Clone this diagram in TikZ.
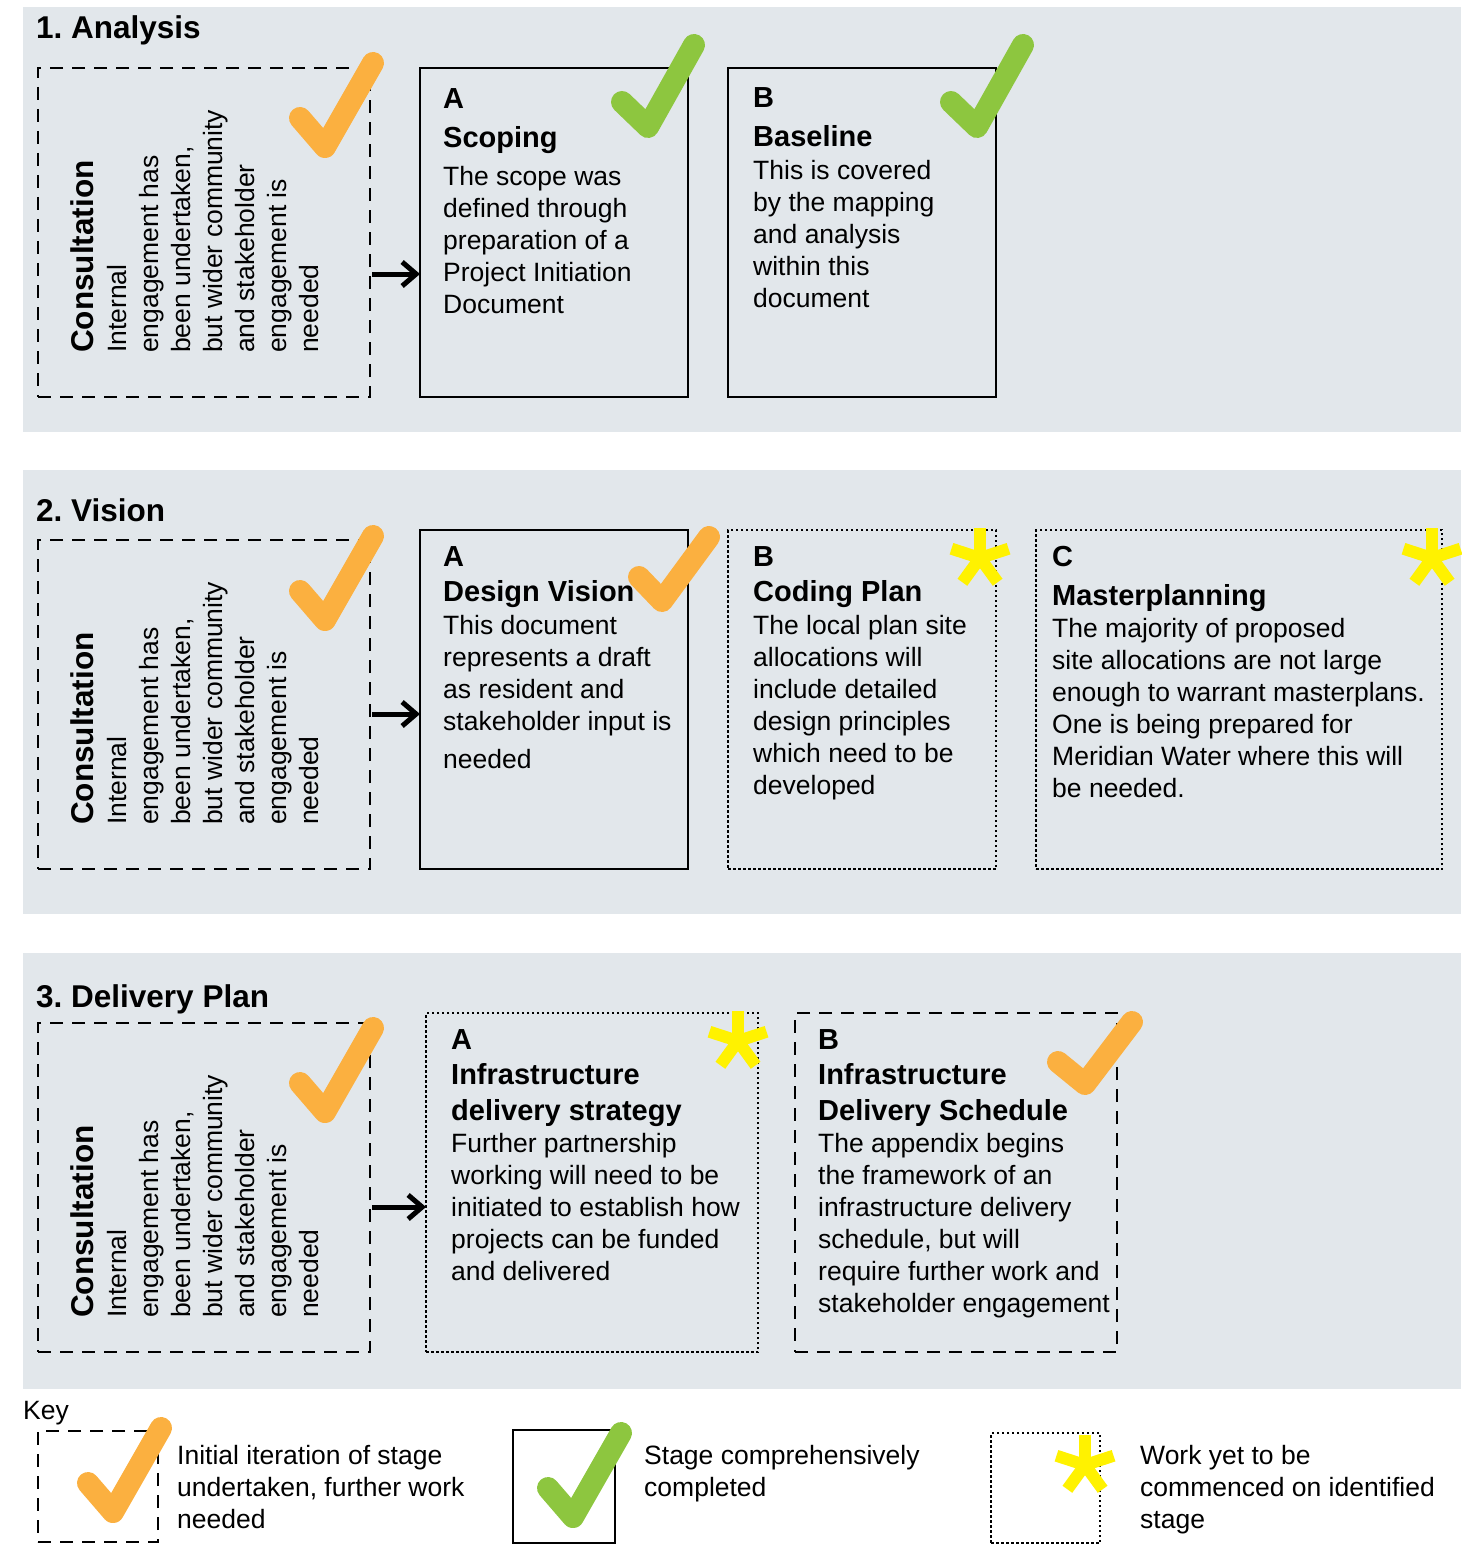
\documentclass[tikz,border=0pt]{standalone}
\usepackage{fontspec}
\setmainfont{Liberation Sans}
\usetikzlibrary{positioning,arrows.meta}
\definecolor{panelGrey}{HTML}{E2E7EB}
\definecolor{tickOrange}{HTML}{FBB040}
\definecolor{tickGreen}{HTML}{8DC63F}
\definecolor{starYellow}{HTML}{FFF200}
\newcommand{\bodyfont}{\fontsize{26.5}{32}\selectfont}
\newcommand{\headfont}{\fontsize{29}{34}\selectfont\bfseries}
\newcommand{\titlefont}{\fontsize{31.5}{37}\selectfont\bfseries}
\newcommand{\firstline}{\rule{0pt}{24pt}}
\newcommand{\starsign}[1]{\foreach \ang in {270,342,198,126,54}{\draw[starline] #1 -- ++(\ang:30);}}
\frenchspacing

\begin{document}
\begin{tikzpicture}[x=1pt, y=-1pt,
    stagebox/.style={rectangle, outer sep=0pt, inner sep=0pt, line width=2.8pt, anchor=north west},
    solidbox/.style={stagebox, draw},
    dashbox/.style={stagebox, draw, dash pattern=on 13pt off 9pt},
    dotbox/.style={stagebox, draw, line width=2.5pt, dash pattern=on 2.5pt off 2.5pt},
    txt/.style={inner sep=0pt, anchor=north west, align=left, font=\bodyfont},
    vtxt/.style={txt, rotate=90},
    title/.style={inner sep=0pt, anchor=base west, font=\titlefont},
    tickline/.style={line width=22pt, line cap=round, line join=round},
    starline/.style={line width=12pt, starYellow},
    flowarrow/.style={-{Straight Barb[length=14pt,width=24pt]}, line width=5pt}]
  \fill[white] (0,0) rectangle (1461,1546);
  \useasboundingbox (0,0) rectangle (1461,1546);
  % panels
  \fill[panelGrey] (23,7) rectangle (1461,432);
  \fill[panelGrey] (23,470) rectangle (1461,914);
  \fill[panelGrey] (23,953) rectangle (1461,1389);

  % 1. Analysis
  \node[title] (t1) at (36,39) {1. Analysis};
  \node[dashbox, minimum width=332pt, minimum height=329pt] (cons1) at (38,68) {};
  \node[solidbox, minimum width=268pt, minimum height=329pt] (scope) at (420,68) {};
  \node[solidbox, minimum width=268pt, minimum height=329pt] (base) at (728,68) {};
  \node[vtxt] (cons1t) at (69,353) {\firstline{\titlefont Consultation}\\[1pt] Internal\\ engagement has\\ been undertaken,\\ but wider community\\ and stakeholder\\ engagement is\\ needed};
  \node[txt] (scopet) at (443,84) {\firstline{\headfont A}\\[7pt] {\headfont Scoping}\\[6pt] The scope was\\ defined through\\ preparation of a\\ Project Initiation\\ Document};
  \node[txt] (baset) at (753,83) {\firstline{\headfont B}\\[7pt] {\headfont Baseline}\\[1pt] This is covered\\ by the mapping\\ and analysis\\ within this\\ document};
  \coordinate (row1) at (0,274);
  \draw[flowarrow] ([xshift=2pt]cons1.east |- row1) -- (scope.west |- row1);

  % 2. Vision
  \node[title] (t2) at (36,521) {2. Vision};
  \node[dashbox, minimum width=332pt, minimum height=329pt] (cons2) at (38,540) {};
  \node[solidbox, minimum width=268pt, minimum height=339pt] (vision) at (420,530) {};
  \node[dotbox, minimum width=268pt, minimum height=339pt] (coding) at (728,530) {};
  \node[dotbox, minimum width=406pt, minimum height=339pt] (master) at (1036,530) {};
  \node[vtxt] (cons2t) at (69,825) {\firstline{\titlefont Consultation}\\[1pt] Internal\\ engagement has\\ been undertaken,\\ but wider community\\ and stakeholder\\ engagement is\\ needed};
  \node[txt] (visiont) at (443,542) {\firstline{\headfont A}\\[3pt] {\headfont Design Vision}\\[1pt] This document\\ represents a draft\\ as resident and\\ stakeholder input is\\[6pt] needed};
  \node[txt] (codingt) at (753,542) {\firstline{\headfont B}\\[3pt] {\headfont Coding Plan}\\[1pt] The local plan site\\ allocations will\\ include detailed\\ design principles\\ which need to be\\ developed};
  \node[txt] (mastert) at (1052,542) {\firstline{\headfont C}\\[7pt] {\headfont Masterplanning}\\ The majority of proposed\\ site allocations are not large\\ enough to warrant masterplans.\\ One is being prepared for\\ Meridian Water where this will\\ be needed.};
  \coordinate (row2) at (0,714);
  \draw[flowarrow] ([xshift=2pt]cons2.east |- row2) -- (vision.west |- row2);

  % 3. Delivery Plan
  \node[title] (t3) at (36,1007) {3. Delivery Plan};
  \node[dashbox, minimum width=332pt, minimum height=329pt] (cons3) at (38,1023) {};
  \node[dotbox, minimum width=332pt, minimum height=339pt] (infra) at (426,1013) {};
  \node[dashbox, minimum width=322pt, minimum height=339pt] (sched) at (795,1013) {};
  \node[vtxt] (cons3t) at (69,1318) {\firstline{\titlefont Consultation}\\[1pt] Internal\\ engagement has\\ been undertaken,\\ but wider community\\ and stakeholder\\ engagement is\\ needed};
  \node[txt] (infrat) at (451,1025) {\firstline{\headfont A}\\[3pt] {\headfont Infrastructure}\\[4pt] {\headfont delivery strategy}\\ Further partnership\\ working will need to be\\ initiated to establish how\\ projects can be funded\\ and delivered};
  \node[txt] (schedt) at (818,1025) {\firstline{\headfont B}\\[3pt] {\headfont Infrastructure}\\[4pt] {\headfont Delivery Schedule}\\ The appendix begins\\ the framework of an\\ infrastructure delivery\\ schedule, but will\\ require further work and\\ stakeholder engagement};
  \coordinate (row3) at (0,1207);
  \draw[flowarrow] ([xshift=2pt]cons3.east |- row3) -- (infra.west |- row3);

  % key
  \node[inner sep=0pt, anchor=base west, font=\bodyfont] (key) at (23,1419) {Key};
  \node[dashbox, minimum width=120pt, minimum height=111pt] (keyA) at (38,1431) {};
  \node[solidbox, minimum width=102pt, minimum height=113pt] (keyB) at (513,1430) {};
  \node[dotbox, minimum width=109pt, minimum height=110pt] (keyC) at (991,1433) {};
  \node[txt] (keyAt) at (177,1440) {\firstline Initial iteration of stage\\ undertaken, further work\\ needed};
  \node[txt] (keyBt) at (644,1440) {\firstline Stage comprehensively\\ completed};
  \node[txt] (keyCt) at (1140,1440) {\firstline Work yet to be\\ commenced on identified\\ stage};

  % marks
  \draw[tickline, tickOrange] (300,118) -- (325,147) -- (373,63);
  \draw[tickline, tickGreen] (622,102) -- (648,127) -- (694,45);
  \draw[tickline, tickGreen] (951,102) -- (977,127) -- (1023,45);
  \draw[tickline, tickOrange] (300,591) -- (325,620) -- (373,536);
  \draw[tickline, tickOrange] (639,577) -- (662,601) -- (709,537);
  \draw[tickline, tickOrange] (300,1083) -- (325,1112) -- (373,1028);
  \draw[tickline, tickOrange] (1058,1062) -- (1085,1084) -- (1132,1022);
  \draw[tickline, tickOrange] (88,1483) -- (113,1512) -- (161,1428);
  \draw[tickline, tickGreen] (548,1488) -- (573,1517) -- (621,1433);
  \starsign{(980,558)}
  \starsign{(1432,558)}
  \starsign{(738,1041)}
  \starsign{(1085,1465)}
\end{tikzpicture}
\end{document}
